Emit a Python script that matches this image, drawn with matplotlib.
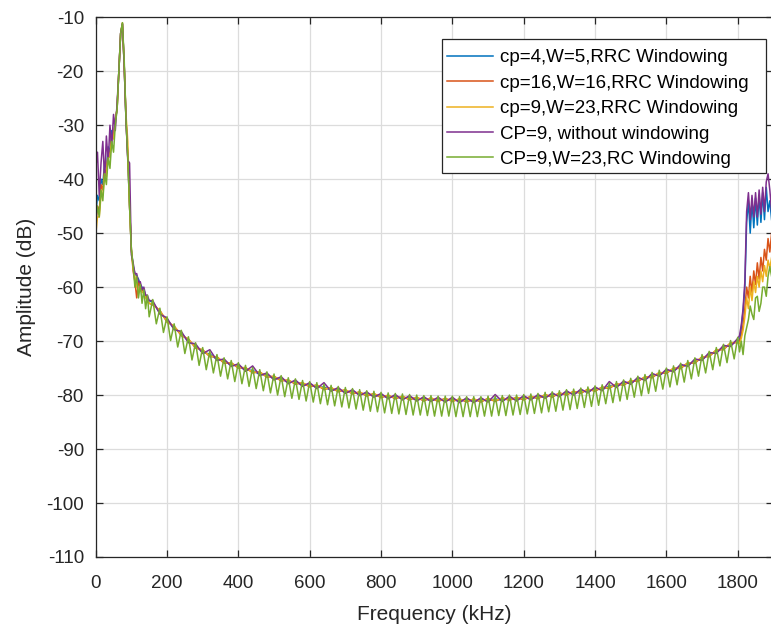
import numpy as np
import matplotlib
matplotlib.use('Agg')
import matplotlib.pyplot as plt
from matplotlib.patches import Rectangle

plt.rcParams['font.family'] = ['Liberation Sans', 'DejaVu Sans']
plt.rcParams['axes.unicode_minus'] = False

# frequency grids (kHz)
f_left = list(range(0, 151, 5))
f_body = list(range(160, 1801, 20))
f_body_green = list(range(160, 1801, 10))
f_right = list(range(1805, 1896, 5))

# ---- cp=4, W=5, RRC ----
blue_left = [-47, -43, -44, -40, -41, -37, -38, -34, -35, -31, -32, -29, -27, -20, -13, -11.2,
             -19, -29, -36, -45, -53, -56, -57.5, -58, -58.5, -59.5, -60, -60.5, -61.5, -62, -62.5]
blue_body = [-62.8, -64.8, -66.0, -67.7, -68.5, -70.1, -70.8, -72.1, -72.4, -73.4, -73.6, -74.5,
             -74.5, -75.4, -75.4, -76.2, -76.2, -77.0, -76.9, -77.7, -77.5, -78.2, -78.0, -78.6,
             -78.5, -79.1, -78.9, -79.5, -79.3, -79.9, -79.7, -80.2, -80.0, -80.5, -80.2, -80.7,
             -80.4, -80.9, -80.6, -81.0, -80.7, -81.1, -80.7, -81.2, -80.8, -81.2, -80.8, -81.1,
             -80.7, -81.0, -80.5, -80.9, -80.4, -80.7, -80.2, -80.4, -79.9, -80.1, -79.5, -79.8,
             -79.2, -79.4, -78.8, -79.0, -78.3, -78.4, -77.7, -77.8, -77.0, -77.1, -76.3, -76.3,
             -75.5, -75.5, -74.6, -74.5, -73.6, -73.4, -72.4, -72.1, -71.1, -70.8, -69.8]
blue_right = [-70, -67.5, -64.5, -60, -48, -44, -50, -44, -49, -43.5, -48.5, -43, -48, -42.5,
              -47.5, -41.5, -46, -44, -47.5]

# ---- cp=16, W=16, RRC ----
orange_left = [-49, -45, -46, -41, -42, -38, -39, -35, -35.5, -32, -32.5, -29, -27, -20, -13, -11.2,
               -19, -29, -36, -45, -53, -57, -59, -62, -59, -60, -60.5, -61, -61.5, -62.5, -63]
orange_body = [-63.3, -64.3, -66.5, -67.2, -69.0, -69.6, -71.3, -71.6, -72.9, -72.9, -74.1, -74.0,
               -75.0, -74.9, -75.9, -75.7, -76.7, -76.5, -77.4, -77.2, -78.0, -77.7, -78.5, -78.1,
               -79.0, -78.6, -79.4, -79.0, -79.8, -79.4, -80.2, -79.7, -80.5, -80.0, -80.7, -80.2,
               -80.9, -80.4, -81.1, -80.5, -81.2, -80.6, -81.2, -80.7, -81.3, -80.7, -81.3, -80.6,
               -81.2, -80.5, -81.0, -80.4, -80.9, -80.2, -80.7, -79.9, -80.4, -79.6, -80.0, -79.3,
               -79.7, -78.9, -79.3, -78.5, -78.8, -77.9, -78.2, -77.3, -77.5, -76.6, -76.8, -75.8,
               -76.0, -75.0, -75.1, -74.0, -74.1, -72.9, -72.9, -71.6, -71.6, -70.3, -70.3]
orange_right = [-70, -69, -67, -64, -60, -62, -58, -61, -57, -59.5, -55.5, -58.5, -54.5, -57,
                -53, -55, -51, -53.5, -50]

# ---- cp=9, W=23, RRC ----
yellow_left = [-50.5, -47, -47, -43, -43, -39, -39.5, -35, -36, -32, -32.5, -29, -27, -20, -13, -11,
               -19, -28, -33, -45, -53, -56.5, -58, -60, -60.5, -60, -61, -61, -62, -62.5, -63]
yellow_body = [-63.1, -64.4, -66.3, -67.3, -68.8, -69.7, -71.1, -71.7, -72.7, -73.0, -73.9, -74.1,
               -74.8, -75.0, -75.7, -75.8, -76.5, -76.6, -77.2, -77.3, -77.8, -77.8, -78.3, -78.2,
               -78.8, -78.7, -79.2, -79.1, -79.6, -79.5, -80.0, -79.8, -80.3, -80.1, -80.5, -80.3,
               -80.7, -80.5, -80.9, -80.6, -81.0, -80.7, -81.0, -80.8, -81.1, -80.8, -81.1, -80.7,
               -81.0, -80.6, -80.8, -80.5, -80.7, -80.3, -80.5, -80.0, -80.2, -79.7, -79.8, -79.4,
               -79.5, -79.0, -79.1, -78.6, -78.6, -78.0, -78.0, -77.4, -77.3, -76.7, -76.6, -75.9,
               -75.8, -75.1, -74.9, -74.1, -73.9, -73.0, -72.7, -71.7, -71.4, -70.4, -70.1]
yellow_right = [-70.5, -69.5, -68, -65.5, -62, -64, -60, -62.5, -59, -61, -58, -60, -57, -59,
                -56, -58, -55, -56.5, -54.5]

# ---- CP=9, without windowing ----
purple_left = [-38, -35, -43, -37, -33, -40, -32, -37, -30, -34, -28, -31, -26, -20, -13, -11.2,
               -19, -29, -36.5, -37, -54, -55.5, -57.5, -57.5, -59, -59, -60.5, -60, -61.5, -61.5, -62.5]
purple_body = [-62.5, -65.0, -65.7, -67.9, -68.2, -70.3, -70.5, -72.3, -71.6, -73.6, -73.3, -74.7,
               -74.2, -75.6, -74.6, -76.4, -75.9, -77.2, -76.6, -77.9, -77.2, -78.4, -77.7, -78.8,
               -77.7, -79.3, -78.6, -79.7, -79.0, -80.1, -79.4, -80.4, -79.7, -80.7, -79.9, -80.9,
               -80.1, -81.1, -80.3, -81.2, -80.4, -81.3, -80.4, -81.4, -80.5, -81.4, -80.5, -81.3,
               -79.9, -81.2, -80.2, -81.1, -80.1, -80.9, -79.9, -80.6, -79.6, -80.3, -79.2, -80.0,
               -78.9, -79.6, -78.5, -79.2, -77.5, -78.6, -77.4, -78.0, -76.7, -77.3, -76.0, -76.5,
               -75.2, -75.7, -74.3, -74.7, -73.3, -73.6, -72.1, -72.3, -70.8, -71.0, -69.5]
purple_right = [-69, -67, -64, -59, -46, -42.5, -47.5, -43, -47, -42.5, -47, -42, -46.5, -41.5,
                -46, -40.5, -39, -42, -46]

# ---- CP=9, W=23, RC ----
green_left = [-48, -45, -47, -42, -44, -39, -41, -36, -38, -33, -35, -30, -27, -20, -13, -11,
              -18, -29, -36, -45, -53, -56, -60, -58, -62, -59.5, -63, -60.5, -64, -61.5, -65.5]
green_body = [-62.3, -66.8, -63.9, -68.4, -65.5, -69.9, -66.8, -71.1, -68.0, -72.3, -69.2, -73.5,
              -70.3, -74.5, -71.2, -75.3, -71.9, -75.9, -72.5, -76.5, -73.1, -77.0, -73.6, -77.5,
              -74.0, -77.9, -74.5, -78.4, -74.9, -78.8, -75.3, -79.2, -75.7, -79.6, -76.1, -80.0,
              -76.4, -80.3, -76.8, -80.6, -77.0, -80.8, -77.3, -81.1, -77.5, -81.3, -77.7, -81.6,
              -78.0, -81.8, -78.2, -82.0, -78.4, -82.2, -78.6, -82.4, -78.8, -82.6, -79.0, -82.8,
              -79.2, -83.0, -79.3, -83.1, -79.5, -83.3, -79.6, -83.4, -79.7, -83.5, -79.8, -83.6,
              -79.9, -83.7, -80.0, -83.7, -80.1, -83.8, -80.1, -83.9, -80.2, -83.9, -80.2, -83.9,
              -80.2, -84.0, -80.3, -84.0, -80.3, -84.0, -80.3, -84.0, -80.3, -83.9, -80.2, -83.9,
              -80.2, -83.8, -80.1, -83.8, -80.0, -83.7, -80.0, -83.6, -79.9, -83.5, -79.8, -83.4,
              -79.7, -83.3, -79.5, -83.1, -79.4, -83.0, -79.2, -82.8, -79.0, -82.7, -78.9, -82.5,
              -78.7, -82.3, -78.5, -82.1, -78.3, -81.9, -78.1, -81.6, -77.8, -81.4, -77.5, -81.1,
              -77.2, -80.8, -76.9, -80.4, -76.5, -80.1, -76.2, -79.7, -75.8, -79.3, -75.4, -78.9,
              -75.0, -78.5, -74.6, -78.1, -74.1, -77.6, -73.6, -77.0, -73.1, -76.5, -72.5, -75.9,
              -71.9, -75.3, -71.2, -74.6, -70.6, -74.0, -69.9, -73.3, -69.3]
green_right = [-72, -70, -72.5, -69, -67.5, -66, -63.5, -65, -66, -62, -61.7, -64.5, -63, -60,
               -60, -61.7, -58, -56.2, -58]

labels = ['cp=4,W=5,RRC Windowing', 'cp=16,W=16,RRC Windowing', 'cp=9,W=23,RRC Windowing',
          'CP=9, without windowing', 'CP=9,W=23,RC Windowing']
colors = ['#0072BD', '#D95319', '#EDB120', '#7E2F8E', '#77AC30']

f_main = f_left + f_body + f_right
f_green = f_left + f_body_green + f_right
series = [
    (f_main, blue_left + blue_body + blue_right),
    (f_main, orange_left + orange_body + orange_right),
    (f_main, yellow_left + yellow_body + yellow_right),
    (f_main, purple_left + purple_body + purple_right),
    (f_green, green_left + green_body + green_right),
]

fig = plt.figure(figsize=(7.71, 6.28), dpi=100)
ax = fig.add_axes([0.1241, 0.1131, 0.879, 0.8594])

for (x, y), c, lab in zip(series, colors, labels):
    ax.plot(x, y, color=c, linewidth=1.1, label=lab)

ax.set_xlim(0, 1900)
ax.set_ylim(-110, -10)
ax.set_xticks(range(0, 1801, 200))
ax.set_yticks(range(-110, -9, 10))
ax.grid(True, color='#dcdcdc', linewidth=0.9)
ax.set_axisbelow(True)
ax.tick_params(direction='in', top=True, right=True, length=5, labelsize=13.5,
               colors='#262626', width=0.9)
ax.tick_params(axis='x', pad=13)
ax.tick_params(axis='y', pad=8.5)
for s in ax.spines.values():
    s.set_color('#262626')
    s.set_linewidth(0.9)

ax.set_xlabel('Frequency (kHz)', fontsize=15, color='#262626', labelpad=9)
ax.set_ylabel('Amplitude (dB)', fontsize=15, color='#262626', labelpad=7)

# legend box drawn separately to match the wide frame
ax.add_patch(Rectangle((0.5105, 0.712), 0.989 - 0.5105, 0.9593 - 0.712, transform=ax.transAxes,
                       facecolor='white', edgecolor='#262626', linewidth=0.9, zorder=5))
leg = ax.legend(loc='upper left', bbox_to_anchor=(0.5105, 0.951), borderaxespad=0,
                fontsize=13.5, frameon=False, handlelength=2.45, handletextpad=0.35,
                labelspacing=0.44, borderpad=0.3)
leg.set_zorder(6)

fig.savefig('out.png', dpi=100)
